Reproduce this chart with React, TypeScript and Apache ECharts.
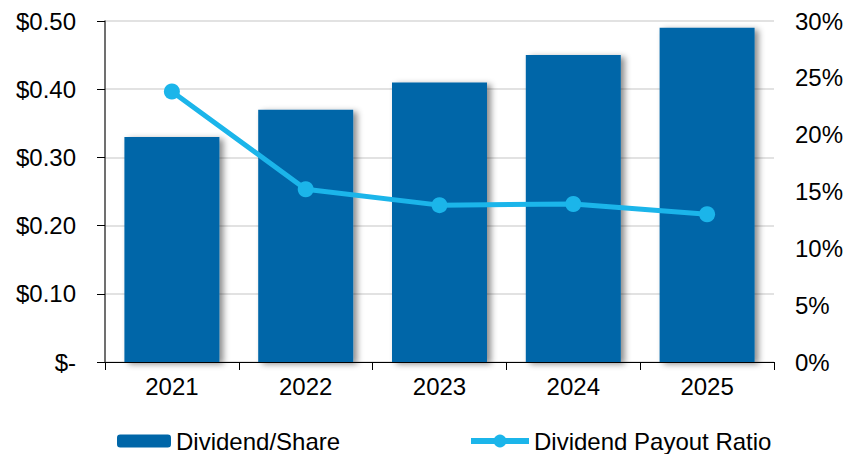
import React, { useEffect, useRef } from "react";
import * as echarts from "echarts";

const years = ["2021", "2022", "2023", "2024", "2025"];
const dividendPerShare = [0.33, 0.37, 0.41, 0.45, 0.49];
const payoutRatio = [23.8, 15.2, 13.8, 13.9, 13.0];

export default function App() {
  const ref = useRef<HTMLDivElement>(null);
  useEffect(() => {
    if (!ref.current) return;
    const chart = echarts.init(ref.current, undefined, { renderer: "svg" });
    const font = "Liberation Sans, Arial, sans-serif";
    chart.setOption({
      animation: false,
      backgroundColor: "#ffffff",
      grid: { left: 105, right: 74, top: 21, bottom: 92, containLabel: false },
      legend: [
        {
          data: ["Dividend/Share"],
          left: 112,
          top: 424,
          itemWidth: 54,
          itemHeight: 13,
          textStyle: { fontFamily: font, fontSize: 24, color: "#000" },
        },
        {
          data: ["Dividend Payout Ratio"],
          left: 463,
          top: 424,
          itemWidth: 58,
          itemHeight: 16,
          lineStyle: { width: 6 },
          textStyle: { fontFamily: font, fontSize: 24, color: "#000" },
        },
      ],
      xAxis: {
        type: "category",
        data: years,
        axisLine: { show: true, lineStyle: { color: "#000", width: 1 } },
        axisTick: { show: true, length: 8, lineStyle: { color: "#000" } },
        axisLabel: { fontFamily: font, fontSize: 24, color: "#000", margin: 12 },
      },
      yAxis: [
        {
          type: "value",
          min: 0,
          max: 0.5,
          interval: 0.1,
          axisLine: { show: true, lineStyle: { color: "#404040", width: 1.5 } },
          axisTick: { show: true, length: 8, lineStyle: { color: "#000" } },
          splitLine: { show: true, lineStyle: { color: "#d9d9d9", width: 1.5 } },
          axisLabel: {
            fontFamily: font,
            fontSize: 24,
            color: "#000",
            margin: 29,
            formatter: (v: number) => (v === 0 ? "$-" : "$" + v.toFixed(2)),
          },
        },
        {
          type: "value",
          min: 0,
          max: 30,
          interval: 5,
          position: "right",
          axisLine: { show: false },
          axisTick: { show: false },
          splitLine: { show: false },
          axisLabel: {
            fontFamily: font,
            fontSize: 24,
            color: "#000",
            margin: 21,
            formatter: (v: number) => v + "%",
          },
        },
      ],
      series: [
        {
          name: "Dividend/Share",
          type: "bar",
          data: dividendPerShare,
          barWidth: "71%",
          itemStyle: {
            color: "#0066a8",
            shadowColor: "rgba(0,0,0,0.45)",
            shadowBlur: 6,
            shadowOffsetX: 4,
            shadowOffsetY: 2,
          },
        },
        {
          name: "Dividend Payout Ratio",
          type: "line",
          yAxisIndex: 1,
          data: payoutRatio,
          symbol: "circle",
          symbolSize: 16,
          lineStyle: { color: "#1bb5ea", width: 5 },
          itemStyle: { color: "#1bb5ea" },
        },
      ],
    });
    return () => chart.dispose();
  }, []);
  return (
    <div
      ref={ref}
      style={{ position: "fixed", left: 0, top: 0, width: 848, height: 454 }}
    />
  );
}
